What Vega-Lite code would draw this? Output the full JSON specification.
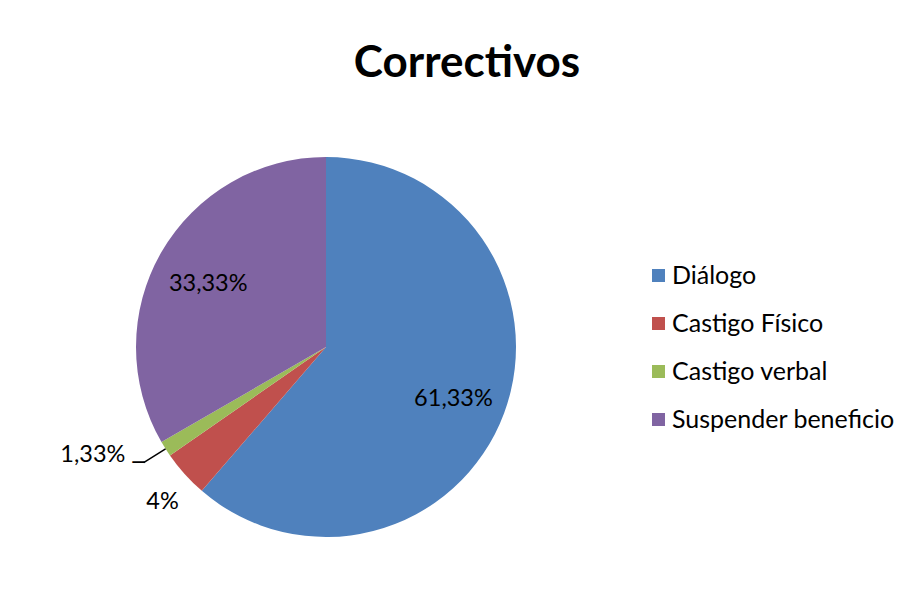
{
  "$schema": "https://vega.github.io/schema/vega-lite/v6.json",
  "autosize": {"type": "none"},
  "width": 380,
  "height": 380,
  "padding": {"left": 136, "top": 157, "right": 392, "bottom": 52},
  "background": "white",
  "title": {
    "text": "Correctivos",
    "font": "Lato",
    "fontSize": 44,
    "fontWeight": "bold",
    "color": "#000000",
    "anchor": "middle",
    "frame": "group",
    "dx": 141,
    "offset": 75,
    "dy": 4
  },
  "config": {"view": {"stroke": null}, "font": "Lato"},
  "data": {
    "values": [
      {"cat": "Diálogo", "value": 61.33, "label": "61,33%", "i": 1},
      {"cat": "Castigo Físico", "value": 4, "label": "4%", "i": 2},
      {"cat": "Castigo verbal", "value": 1.33, "label": "1,33%", "i": 3},
      {"cat": "Suspender beneficio", "value": 33.33, "label": "33,33%", "i": 4}
    ]
  },
  "encoding": {
    "theta": {"field": "value", "type": "quantitative", "stack": true},
    "order": {"field": "i", "type": "quantitative", "sort": "ascending"}
  },
  "layer": [
    {
      "mark": {"type": "arc", "outerRadius": 190},
      "encoding": {
        "color": {
          "field": "cat",
          "type": "nominal",
          "sort": ["Diálogo", "Castigo Físico", "Castigo verbal", "Suspender beneficio"],
          "scale": {
            "domain": ["Diálogo", "Castigo Físico", "Castigo verbal", "Suspender beneficio"],
            "range": ["#4F81BD", "#C0504D", "#9BBB59", "#8064A2"]
          },
          "legend": {
            "title": null,
            "orient": "none",
            "legendX": 510,
            "legendY": 106,
            "padding": 0,
            "symbolType": "square",
            "symbolSize": 169,
            "symbolStrokeWidth": 0,
            "labelFont": "Lato",
            "labelFontSize": 25,
            "labelColor": "#000000",
            "labelOffset": 1,
            "rowPadding": 22,
            "labelLimit": 400
          }
        }
      }
    },
    {
      "mark": {"type": "text", "radius": 136, "dy": 5, "fontSize": 23.5, "font": "Lato", "color": "#000000"},
      "encoding": {
        "text": {
          "condition": {"test": "datum.cat === 'Diálogo' || datum.cat === 'Suspender beneficio'", "field": "label"},
          "value": ""
        }
      }
    },
    {
      "mark": {"type": "text", "radius": 220, "dy": 8, "fontSize": 23.5, "font": "Lato", "color": "#000000"},
      "encoding": {
        "text": {
          "condition": {"test": "datum.cat === 'Castigo Físico'", "field": "label"},
          "value": ""
        }
      }
    },
    {
      "mark": {"type": "text", "radius": 250, "dx": -22, "dy": -26, "fontSize": 23.5, "font": "Lato", "color": "#000000"},
      "encoding": {
        "text": {
          "condition": {"test": "datum.cat === 'Castigo verbal'", "field": "label"},
          "value": ""
        }
      }
    },
    {
      "mark": {"type": "text", "radius": 216, "dx": 1, "dy": 0, "fontSize": 20, "font": "DejaVu Sans", "color": "#000000", "baseline": "middle", "align": "right"},
      "encoding": {
        "text": {
          "condition": {"test": "datum.cat === 'Castigo verbal'", "value": "─"},
          "value": ""
        }
      }
    },
    {
      "transform": [
        {"stack": "value", "groupby": [], "sort": [{"field": "i", "order": "ascending"}], "as": ["v0", "v1"]},
        {"calculate": "(datum.v0 + datum.v1) / 2", "as": "mid"},
        {"filter": "datum.cat === 'Castigo verbal'"}
      ],
      "mark": {"type": "arc", "radius": 216, "radius2": 190, "stroke": "#000000", "strokeWidth": 1.5, "fill": null},
      "encoding": {
        "theta": {"field": "mid", "type": "quantitative"},
        "theta2": {"field": "mid"},
        "order": null
      }
    }
  ]
}
